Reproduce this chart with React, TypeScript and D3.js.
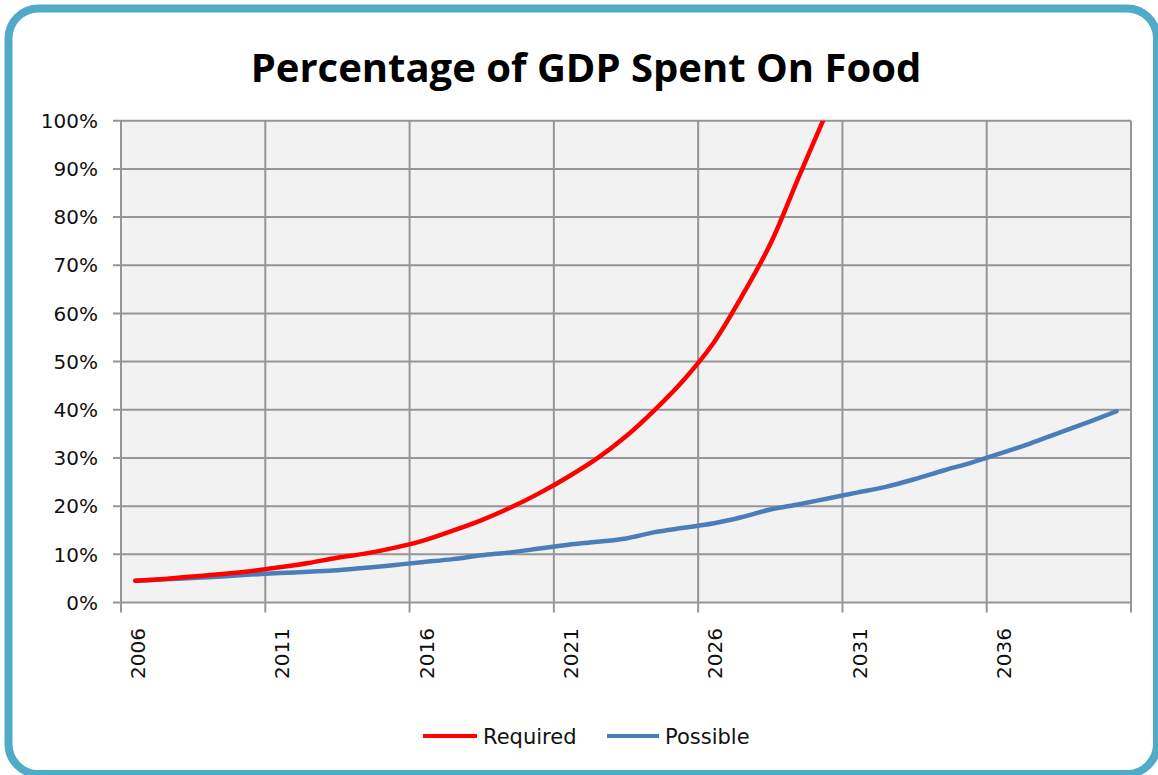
import React from "react";
import * as d3 from "d3";

const years: number[] = [
  2006, 2007, 2008, 2009, 2010, 2011, 2012, 2013, 2014, 2015,
  2016, 2017, 2018, 2019, 2020, 2021, 2022, 2023, 2024, 2025,
  2026, 2027, 2028, 2029, 2030, 2031, 2032, 2033, 2034, 2035,
  2036, 2037, 2038, 2039, 2040,
];

// percent of GDP
const required: number[] = [
  4.5, 4.9, 5.4, 5.9, 6.5, 7.3, 8.2, 9.3, 10.2, 11.4,
  12.9, 14.9, 17.1, 19.7, 22.7, 26.1, 29.9, 34.5, 40.0, 46.2,
  53.6, 63.4, 74.4, 88.5, 102.4,
];

const possible: number[] = [
  4.5, 4.8, 5.1, 5.4, 5.8, 6.1, 6.4, 6.7, 7.2, 7.8,
  8.4, 9.0, 9.8, 10.4, 11.2, 12.0, 12.6, 13.3, 14.6, 15.5,
  16.4, 17.7, 19.3, 20.4, 21.6, 22.8, 24.0, 25.6, 27.4, 29.1,
  31.0, 33.0, 35.2, 37.4, 39.7,
];

const yTicks: number[] = [0, 10, 20, 30, 40, 50, 60, 70, 80, 90, 100];
const xLabelYears: number[] = [2006, 2011, 2016, 2021, 2026, 2031, 2036];

const seriesNames = ["Required", "Possible"];
const seriesColors = ["#ff0000", "#4a7ebb"];

const W = 1158;
const H = 775;
const plot = { left: 121, right: 1131, top: 120.7, bottom: 602.5 };
const tickFont = "'DejaVu Sans', sans-serif";

export default function App() {
  const x = d3
    .scaleBand<number>()
    .domain(years)
    .range([plot.left, plot.right])
    .paddingInner(0)
    .paddingOuter(0);
  const bw = x.bandwidth();
  const cx = (yr: number) => (x(yr) as number) + bw / 2;
  const y = d3.scaleLinear().domain([0, 100]).range([plot.bottom, plot.top]);

  const line = d3
    .line<number>()
    .x((_, i) => cx(years[i]))
    .y((v) => y(v))
    .curve(d3.curveCatmullRom.alpha(0.5));

  const gridX: number[] = years
    .filter((_, i) => i % 5 === 0)
    .map((yr) => x(yr) as number)
    .concat([plot.right]);

  const gridColor = "#969696";

  return (
    <svg
      width={W}
      height={H}
      style={{ position: "absolute", left: 0, top: 0, display: "block" }}
    >
      <rect x={0} y={0} width={W} height={H} fill="#ffffff" />
      <rect
        x={8.5}
        y={8.5}
        width={1148.5}
        height={765.5}
        rx={30}
        ry={30}
        fill="#ffffff"
        stroke="#4fabc7"
        strokeWidth={8}
      />
      <text
        x={586}
        y={82}
        textAnchor="middle"
        fontFamily="'Open Sans', sans-serif"
        fontWeight={700}
        fontSize={40}
        fill="#000"
      >
        Percentage of GDP Spent On Food
      </text>

      <defs>
        <clipPath id="plotClip">
          <rect
            x={plot.left}
            y={plot.top}
            width={plot.right - plot.left}
            height={plot.bottom - plot.top}
          />
        </clipPath>
      </defs>

      <rect
        x={plot.left}
        y={plot.top}
        width={plot.right - plot.left}
        height={plot.bottom - plot.top}
        fill="#f2f2f2"
      />

      {yTicks.map((t) => (
        <g key={"yt" + t}>
          <line
            x1={plot.left - 8}
            x2={plot.right}
            y1={y(t)}
            y2={y(t)}
            stroke={gridColor}
            strokeWidth={2}
          />
          <text
            x={98}
            y={y(t)}
            dy="0.36em"
            textAnchor="end"
            fontFamily={tickFont}
            fontSize={20}
            fill="#111"
          >
            {t + "%"}
          </text>
        </g>
      ))}

      {gridX.map((gx, i) => (
        <line
          key={"gx" + i}
          x1={gx}
          x2={gx}
          y1={plot.top}
          y2={plot.bottom + 10}
          stroke={gridColor}
          strokeWidth={2}
        />
      ))}

      {xLabelYears.map((yr) => (
        <text
          key={"xl" + yr}
          transform={`translate(${cx(yr) + 2.5},${628}) rotate(-90)`}
          dy="0.36em"
          textAnchor="end"
          fontFamily={tickFont}
          fontSize={20}
          fill="#111"
        >
          {String(yr)}
        </text>
      ))}

      <g clipPath="url(#plotClip)">
        <path
          d={line(possible) || ""}
          fill="none"
          stroke={seriesColors[1]}
          strokeWidth={4.5}
          strokeLinecap="round"
          strokeLinejoin="round"
        />
        <path
          d={line(required) || ""}
          fill="none"
          stroke={seriesColors[0]}
          strokeWidth={4.5}
          strokeLinecap="round"
          strokeLinejoin="round"
        />
      </g>

      {/* legend */}
      <line x1={423} x2={477} y1={736} y2={736} stroke={seriesColors[0]} strokeWidth={4} />
      <text x={483} y={743.5} fontFamily={tickFont} fontSize={21} fill="#111">
        {seriesNames[0]}
      </text>
      <line x1={607} x2={659} y1={736} y2={736} stroke={seriesColors[1]} strokeWidth={4} />
      <text x={665} y={743.5} fontFamily={tickFont} fontSize={21} fill="#111">
        {seriesNames[1]}
      </text>
    </svg>
  );
}
